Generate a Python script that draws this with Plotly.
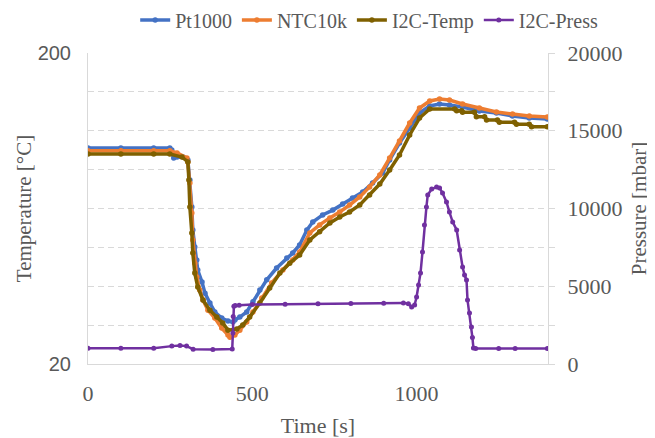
import math
import plotly.graph_objects as go

# ---- data ----
pt1000_t = [0, 100, 200, 249, 255, 261, 271, 289, 304, 310, 316, 319, 325, 331, 334, 347, 356, 371, 386, 407,
            426, 441, 447, 462, 483, 502, 523, 544, 574, 605, 623, 644, 666, 684, 714, 745, 775, 805, 836, 866,
            897, 918, 948, 979, 1009, 1040, 1070, 1100, 1140, 1191, 1243, 1292, 1343, 1398]
pt1000_T = [99.0, 99.0, 99.0, 99.0, 97.5, 91.9, 92.6, 92.6, 90.6, 78.1, 63.9, 53.9, 47.6, 43.2, 40.1, 36.7, 33.8,
            31.4, 29.4, 28.1, 27.5, 27.3, 27.7, 28.3, 29.4, 31.7, 34.6, 37.3, 40.7, 43.8, 45.5, 48.3, 53.9, 57.2,
            60.3, 62.5, 65.4, 68.4, 71.5, 76.4, 82.3, 90.6, 102.7, 114.8, 128.3, 135.1, 137.1, 136.1, 134.1, 130.2,
            128.3, 125.5, 123.6, 122.7]

ntc_t = [0, 100, 200, 249, 271, 301, 304, 310, 316, 319, 325, 331, 340, 350, 365, 386, 407, 426, 432, 447, 462,
         483, 502, 529, 559, 593, 623, 644, 675, 705, 736, 766, 796, 827, 857, 888, 918, 948, 979, 1009, 1040,
         1070, 1100, 1140, 1191, 1243, 1292, 1343, 1398]
ntc_T = [97.0, 97.0, 97.0, 97.0, 95.4, 91.9, 89.3, 76.4, 61.2, 50.1, 42.2, 38.1, 34.6, 32.1, 29.8, 28.1, 26.1,
         24.8, 24.4, 24.8, 25.7, 27.3, 29.4, 32.6, 36.4, 40.1, 43.2, 45.8, 52.8, 56.0, 59.0, 61.6, 64.9, 68.9,
         74.2, 81.1, 91.9, 104.2, 119.1, 133.1, 140.2, 142.3, 141.2, 137.1, 133.1, 129.2, 127.3, 125.5, 124.5]

i2c_temp_t = [0, 100, 200, 249, 286, 304, 307, 310, 316, 319, 325, 334, 350, 371, 392, 410, 426, 453, 471, 492,
              523, 553, 584, 614, 644, 675, 705, 736, 766, 796, 827, 857, 888, 918, 948, 979, 1009, 1040, 1116,
              1122, 1137, 1140, 1176, 1182, 1207, 1213, 1246, 1252, 1298, 1304, 1343, 1350, 1398]
i2c_temp_T = [94.7, 94.7, 94.7, 94.7, 92.6, 89.3, 78.1, 63.9, 52.8, 45.5, 39.2, 35.4, 32.1, 29.8, 28.3, 27.1,
              25.7, 25.9, 26.7, 28.3, 31.4, 35.1, 39.2, 42.2, 44.8, 50.1, 53.2, 56.8, 59.4, 61.6, 64.9, 69.9,
              75.8, 84.1, 94.0, 109.0, 123.6, 132.1, 132.1, 130.5, 130.5, 128.9, 128.9, 124.8, 124.8, 121.8,
              121.8, 119.7, 119.7, 118.0, 118.0, 115.9, 115.9]

press_t = [0, 100, 200, 255, 280, 300, 320, 380, 439, 441, 442, 444, 448, 460, 500, 600, 700, 800, 900, 960,
           975, 985, 994, 1000, 1006, 1012, 1018, 1024, 1030, 1034, 1046, 1061, 1070, 1079, 1091, 1100, 1110,
           1122, 1131, 1140, 1146, 1152, 1155, 1161, 1167, 1170, 1173, 1180, 1250, 1300, 1398]
press_P = [1010, 1010, 1020, 1150, 1190, 1150, 950, 930, 960, 2000, 3050, 3720, 3760, 3780, 3820, 3850, 3870,
           3890, 3910, 3930, 3880, 3670, 3790, 4310, 5080, 5850, 7200, 8940, 10100, 10870, 11250, 11380, 11320,
           11000, 10420, 9770, 9130, 8620, 7330, 6240, 5720, 5400, 4120, 3280, 2380, 1700, 1030, 1000, 1000,
           990, 1000]

x_ticks = [0, 500, 1000]
temp_ticks = [20, 200]
press_ticks = [0, 5000, 10000, 15000, 20000]

series = [
    ("Pt1000", pt1000_t, pt1000_T, "#4472C4"),
    ("NTC10k", ntc_t, ntc_T, "#ED7D31"),
    ("I2C-Temp", i2c_temp_t, i2c_temp_T, "#7F6000"),
]

SERIF = "Liberation Serif"
SANS = "Liberation Sans"
GRAY = "#595959"
LINE = "#D9D9D9"

fig = go.Figure()
for name, t, v, col in series:
    fig.add_trace(go.Scatter(x=t, y=v, name=name, mode="lines+markers",
                             line=dict(color=col, width=3.5),
                             marker=dict(size=5.5, color=col)))
fig.add_trace(go.Scatter(x=press_t, y=press_P, name="I2C-Press", mode="lines+markers",
                         yaxis="y2", line=dict(color="#7030A0", width=2.5),
                         marker=dict(size=5, color="#7030A0")))

# page body adds an 8px offset, so the figure is 8px smaller and margins are shifted
fig.update_layout(
    width=647, height=430,
    margin=dict(l=80, r=107, t=45, b=74, autoexpand=False),
    paper_bgcolor="white", plot_bgcolor="white",
    legend=dict(orientation="h", x=1.12, xanchor="right",
                y=1.106, yanchor="middle",
                font=dict(family=SERIF, size=20, color=GRAY), itemwidth=30,
                bgcolor="rgba(0,0,0,0)"),
    xaxis=dict(range=[0, 1400], tickvals=x_ticks, showgrid=False, zeroline=False,
               showline=True, linecolor=LINE, linewidth=1, ticks="",
               tickfont=dict(family=SERIF, size=22, color=GRAY), ticklabelstandoff=10,
               title=dict(text="Time [s]", font=dict(family=SERIF, size=22, color=GRAY), standoff=15)),
    yaxis=dict(type="log", range=[math.log10(20), math.log10(200)], tickvals=temp_ticks,
               ticktext=[str(v) for v in temp_ticks], showgrid=False, zeroline=False,
               showline=True, linecolor=LINE, linewidth=1, ticks="",
               tickfont=dict(family=SANS, size=20, color=GRAY), ticklabelstandoff=12,
               title=dict(text="Temperature [°C]", font=dict(family=SERIF, size=21, color=GRAY), standoff=0)),
    yaxis2=dict(overlaying="y", side="right", range=[0, 20000], tickvals=press_ticks,
                ticktext=[str(v) for v in press_ticks],
                showgrid=True, gridcolor=LINE, griddash="6px,4px", zeroline=False,
                showline=True, linecolor=LINE, linewidth=1,
                ticks="outside", ticklen=6, tickcolor=LINE,
                minor=dict(dtick=2500, tick0=0, showgrid=True, gridcolor=LINE, griddash="6px,4px",
                           ticks="outside", ticklen=6, tickcolor=LINE),
                tickfont=dict(family=SERIF, size=22, color=GRAY), ticklabelstandoff=8,
                title=dict(text="Pressure [mbar]", font=dict(family=SERIF, size=21, color=GRAY), standoff=9)),
)

fig.write_html("out.html")
